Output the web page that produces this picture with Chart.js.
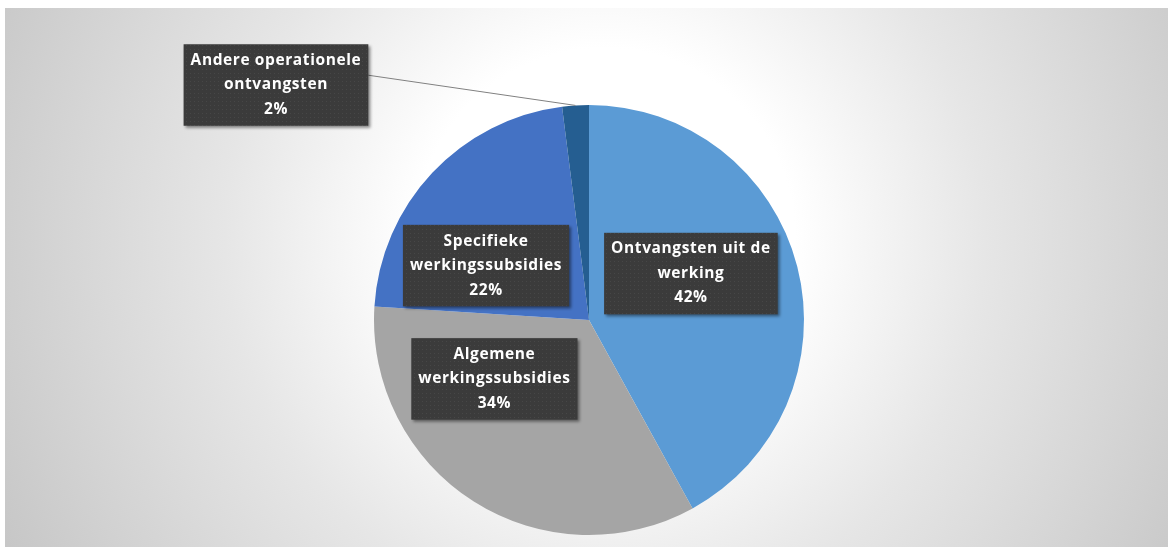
<!DOCTYPE html>
<html>
<head>
  <title>Ontvangsten</title>
  <script src="https://cdn.jsdelivr.net/npm/chart.js"></script>
  <style>
    body { margin: 0; background: #fff; }
    #wrap {
      position: absolute; left: 5px; top: 8px; width: 1163px; height: 539px;
      background: radial-gradient(circle at 600px 230px, #ffffff 0px, #ffffff 190px, #e6e6e6 380px, #c6c6c6 680px);
    }
  </style>
</head>
<body>
  <div id="wrap"><canvas id="pie"></canvas></div>

  <script>
    const categories = [
      'Ontvangsten uit de werking',
      'Algemene werkingssubsidies',
      'Specifieke werkingssubsidies',
      'Andere operationele ontvangsten'
    ];
    const shares = [42, 34, 22, 2];
    const sliceColors = ['#5B9BD5', '#A5A5A5', '#4472C4', '#255E91'];

    // where each label box sits, in units of the pie radius from its centre
    const labelSpots = [
      { dx: 0.474, dy: -0.216 },
      { dx: -0.440, dy: 0.274 },
      { dx: -0.479, dy: -0.253 },
      { dx: -1.456, dy: -1.093, leader: true }
    ];

    const FONT = 'bold 15.5px "Open Sans"';
    const LINE_H = 24.5;

    function wrapText(ctx, text, maxW) {
      const words = text.split(' ');
      const lines = [];
      let cur = '';
      words.forEach(w => {
        const t = cur ? cur + ' ' + w : w;
        if (ctx.measureText(t).width > maxW && cur) { lines.push(cur); cur = w; }
        else cur = t;
      });
      if (cur) lines.push(cur);
      return lines;
    }

    function dotPattern(ctx) {
      const c = document.createElement('canvas');
      c.width = 4; c.height = 4;
      const p = c.getContext('2d');
      p.fillStyle = '#3b3b3b';
      p.fillRect(0, 0, 4, 4);
      p.fillStyle = '#474747';
      p.fillRect(1, 1, 1, 1);
      return ctx.createPattern(c, 'repeat');
    }

    const boxLabels = {
      id: 'boxLabels',
      afterDatasetsDraw(chart) {
        const ctx = chart.ctx;
        const meta = chart.getDatasetMeta(0);
        const data = chart.data.datasets[0].data;
        const total = data.reduce((a, b) => a + b, 0);
        ctx.save();
        ctx.font = FONT;
        ctx.letterSpacing = '0.6px';
        const fill = dotPattern(ctx);
        meta.data.forEach((arc, i) => {
          const spot = labelSpots[i];
          const r = arc.outerRadius;
          const cx = arc.x + spot.dx * r;
          const cy = arc.y + spot.dy * r;
          const lines = wrapText(ctx, chart.data.labels[i], 200);
          lines.push(Math.round(data[i] / total * 100) + '%');
          const w = Math.max(...lines.map(l => ctx.measureText(l).width)) + 14;
          const h = lines.length * LINE_H + 8;
          const x0 = cx - w / 2, y0 = cy - h / 2;

          if (spot.leader) {
            const mid = (arc.startAngle + arc.endAngle) / 2;
            ctx.strokeStyle = '#808080';
            ctx.lineWidth = 1;
            ctx.beginPath();
            ctx.moveTo(x0 + w, y0 + h * 0.38);
            ctx.lineTo(arc.x + Math.cos(mid) * r, arc.y + Math.sin(mid) * r);
            ctx.stroke();
          }

          ctx.shadowColor = 'rgba(0,0,0,0.45)';
          ctx.shadowBlur = 3;
          ctx.shadowOffsetX = 2;
          ctx.shadowOffsetY = 2;
          ctx.fillStyle = fill;
          ctx.fillRect(x0, y0, w, h);
          ctx.shadowColor = 'transparent';

          ctx.fillStyle = '#ffffff';
          ctx.textAlign = 'center';
          ctx.textBaseline = 'middle';
          lines.forEach((l, k) => {
            ctx.fillText(l, cx, y0 + 4 + LINE_H * (k + 0.5));
          });
        });
        ctx.restore();
      }
    };

    new Chart(document.getElementById('pie'), {
      type: 'pie',
      data: {
        labels: categories,
        datasets: [{
          data: shares,
          backgroundColor: sliceColors,
          borderWidth: 0
        }]
      },
      options: {
        responsive: true,
        maintainAspectRatio: false,
        animation: false,
        layout: { padding: { top: 97, bottom: 12, left: 5, right: 0 } },
        plugins: {
          legend: { display: false },
          tooltip: { enabled: false }
        }
      },
      plugins: [boxLabels]
    });
  </script>
</body>
</html>
